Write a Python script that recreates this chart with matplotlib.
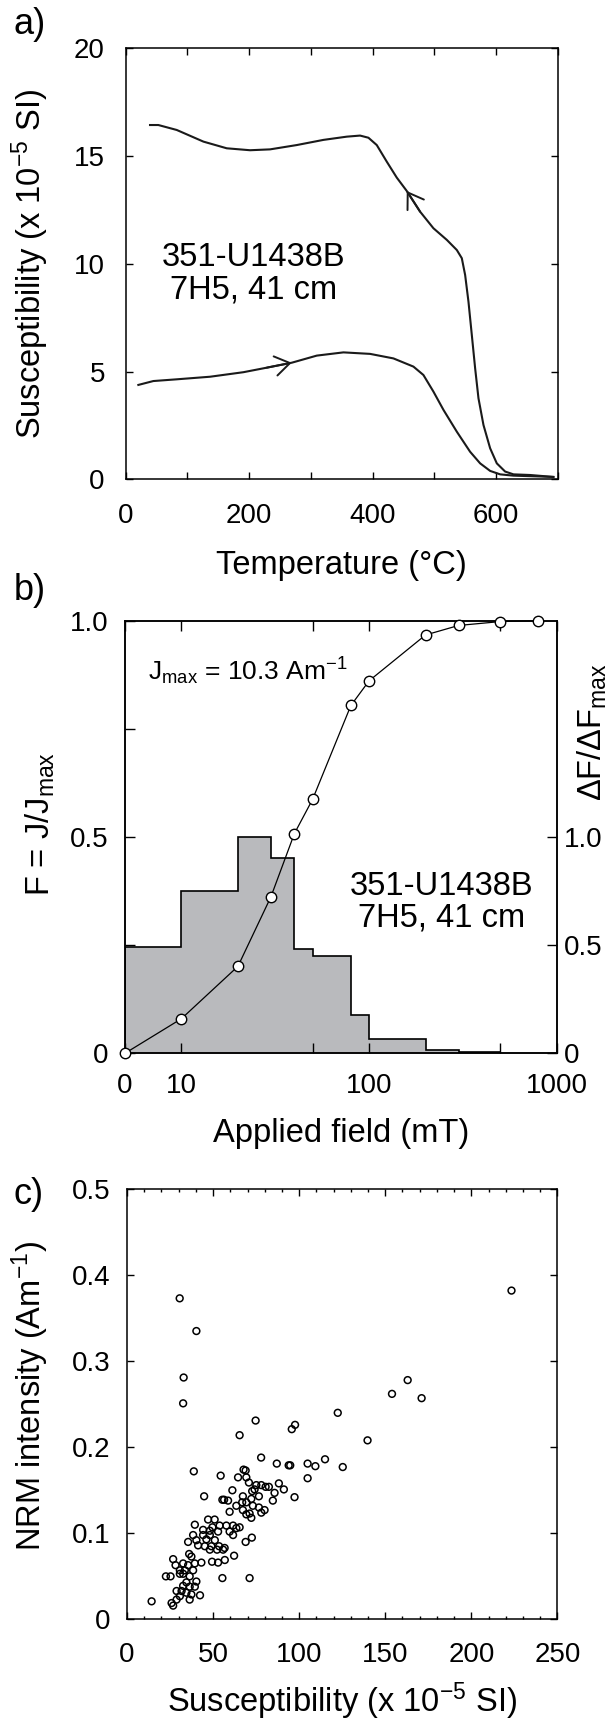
import numpy as np
import matplotlib
matplotlib.use('Agg')
import matplotlib.pyplot as plt
from matplotlib.ticker import MultipleLocator

plt.rcParams['font.family'] = ['Liberation Sans', 'DejaVu Sans']
plt.rcParams['mathtext.fontset'] = 'custom'
plt.rcParams['mathtext.rm'] = 'Liberation Sans'
plt.rcParams['mathtext.it'] = 'Liberation Sans:italic'
plt.rcParams['mathtext.default'] = 'regular'

# a) heating / cooling susceptibility curves
heat_temp = [20.5, 44.8, 82.7, 136.7, 190.7, 228.5, 269, 309.6, 352.8, 396, 433.8,
             466.2, 482.4, 498.6, 514.9, 536.5, 558, 574.3, 590.5, 606.7, 628.3, 693]
heat_susc = [4.38, 4.56, 4.64, 4.76, 4.97, 5.18, 5.41, 5.74, 5.89, 5.82, 5.61,
             5.23, 4.84, 4.07, 3.22, 2.21, 1.28, 0.74, 0.39, 0.23, 0.17, 0.11]
cool_temp = [39.4, 52.9, 82.7, 125.9, 163.7, 201.5, 233.9, 277.1, 320.4, 358.2, 379.8,
             393.3, 406.8, 423, 439.2, 455.4, 477, 498.6, 520.3, 536.5, 544.6, 550,
             555.4, 560.8, 566.2, 571.6, 579.7, 590.5, 601.3, 614.8, 628.3, 655.3, 693]
cool_susc = [16.44, 16.44, 16.21, 15.67, 15.36, 15.27, 15.31, 15.51, 15.75, 15.90, 15.95,
             15.85, 15.51, 14.74, 14.0, 13.38, 12.42, 11.65, 11.11, 10.64, 10.26, 9.48,
             8.24, 6.70, 5.15, 3.76, 2.52, 1.44, 0.74, 0.36, 0.23, 0.20, 0.11]

# b) IRM acquisition
field = [0, 10, 20, 30, 40, 50, 80, 100, 200, 300, 500, 800]
frac_j = [0, 0.080, 0.201, 0.362, 0.508, 0.587, 0.804, 0.861, 0.967, 0.989, 0.998, 1.0]
hist_edges = [0, 10, 20, 30, 40, 50, 80, 100, 200, 300, 500]
hist_vals = [0.493, 0.752, 1.0, 0.904, 0.484, 0.450, 0.176, 0.065, 0.015, 0.005]

# c) NRM vs susceptibility
susc = [30.6, 40.3, 32.9, 32.6, 223.3, 153.9, 163.0, 171.1,
        122.4, 74.7, 95.7, 97.6, 139.7, 77.9, 87.0, 93.9, 94.8, 104.9, 109.4, 115.0, 125.3, 104.9,
        67.7, 68.9, 69.3, 70.8, 75.1, 78.0, 80.5, 82.4, 88.2, 91.1, 85.7, 84.7, 97.3, 74.1,
        72.7, 67.3, 76.6, 72.2, 66.9, 69.3, 73.1, 76.6, 79.9, 78.0, 67.3, 69.3, 72.2, 71.2,
        65.4, 68.9, 72.5, 71.2,
        65.4, 38.8, 54.4, 64.5, 44.8, 61.2, 55.4, 56.4, 58.7, 63.5,
        59.6, 47.1, 50.9, 39.4, 53.8, 57.7, 61.6, 63.5, 49.6, 44.2,
        48.1, 52.9, 59.6, 38.4, 44.2, 48.1, 61.6, 35.5, 40.3, 46.1,
        51.0, 41.3, 45.2, 49.0, 53.5, 56.7, 48.1, 52.3, 55.8, 62.2,
        26.8, 36.1, 37.4, 39.4, 43.2, 32.6, 35.5, 28.2, 30.7, 33.6,
        38.4, 32.6, 30.7, 49.4, 52.9, 56.8, 22.6, 25.3, 55.4, 40.3,
        39.4, 34.5, 32.6, 36.4, 28.8, 31.7, 34.5, 37.4, 30.7, 25.9,
        28.8, 36.4, 26.8, 42.4, 14.3, 36.4]
nrm = [0.373, 0.335, 0.281, 0.251, 0.382, 0.262, 0.278, 0.257,
       0.240, 0.231, 0.221, 0.226, 0.208, 0.188, 0.181, 0.179, 0.179, 0.181, 0.178, 0.186, 0.177, 0.164,
       0.174, 0.173, 0.165, 0.159, 0.156, 0.156, 0.154, 0.154, 0.158, 0.151, 0.147, 0.138, 0.142, 0.151,
       0.149, 0.143, 0.143, 0.140, 0.136, 0.136, 0.132, 0.130, 0.127, 0.124, 0.127, 0.122, 0.118, 0.123,
       0.107, 0.090, 0.095, 0.048,
       0.214, 0.172, 0.167, 0.165, 0.143, 0.150, 0.139, 0.139, 0.138, 0.132,
       0.125, 0.116, 0.116, 0.110, 0.109, 0.109, 0.109, 0.106, 0.107, 0.104,
       0.103, 0.102, 0.102, 0.098, 0.098, 0.098, 0.098, 0.090, 0.092, 0.093,
       0.092, 0.086, 0.085, 0.085, 0.085, 0.083, 0.081, 0.081, 0.081, 0.074,
       0.070, 0.076, 0.073, 0.065, 0.066, 0.065, 0.063, 0.063, 0.057, 0.057,
       0.057, 0.053, 0.053, 0.067, 0.066, 0.069, 0.050, 0.050, 0.048, 0.044,
       0.038, 0.043, 0.039, 0.038, 0.033, 0.033, 0.031, 0.029, 0.027, 0.019,
       0.023, 0.023, 0.016, 0.028, 0.021, 0.050]

sample_lines = ['351-U1438B', '7H5, 41 cm']
LABEL_FS = 23.5
TICK_FS = 20


def style_axes(ax, pad_x, pad_y):
    ax.tick_params(which='both', direction='in', top=True, right=True,
                   labelsize=TICK_FS, width=1.0, color='k')
    ax.tick_params(which='major', length=5)
    ax.tick_params(which='minor', length=2.5)
    ax.tick_params(axis='x', pad=pad_x)
    ax.tick_params(axis='y', pad=pad_y)
    for s in ax.spines.values():
        s.set_linewidth(1.1)


fig = plt.figure(figsize=(6.12, 17.25), dpi=100)

# ---- a) ----
ax_a = fig.add_axes([0.2054, 0.72214, 0.7059, 0.24986])
ax_a.plot(heat_temp, heat_susc, color='#1a1a1a', lw=1.5, solid_joinstyle='round')
ax_a.plot(cool_temp, cool_susc, color='#1a1a1a', lw=1.5, solid_joinstyle='round')
arrow_style = dict(arrowstyle='->,head_length=0.53,head_width=0.35', lw=1.4,
                   color='#1a1a1a', shrinkA=0, shrinkB=0, mutation_scale=20)
ax_a.annotate('', xy=(heat_temp[6], heat_susc[6]), xytext=(heat_temp[5], heat_susc[5]),
              arrowprops=arrow_style)
ax_a.annotate('', xy=(cool_temp[15], cool_susc[15]), xytext=(cool_temp[16], cool_susc[16]),
              arrowprops=arrow_style)
ax_a.set_xlim(0, 700)
ax_a.set_ylim(0, 20)
ax_a.set_xticks(range(0, 701, 100))
ax_a.set_xticklabels(['0', '', '200', '', '400', '', '600', ''])
ax_a.set_yticks([0, 5, 10, 15, 20])
ax_a.set_yticklabels(['0', '5', '10', '15', '20'])
style_axes(ax_a, 17, 15)
ax_a.set_xlabel('Temperature (°C)', fontsize=LABEL_FS, va='top')
ax_a.xaxis.set_label_coords(0.5, -0.165)
ax_a.set_ylabel('Susceptibility (x 10$^{-5}$ SI)', fontsize=LABEL_FS)
ax_a.yaxis.set_label_coords(-0.172, 0.5)
ax_a.text(0.2954, 0.4949, sample_lines[0], transform=ax_a.transAxes, ha='center',
          va='baseline', fontsize=LABEL_FS)
ax_a.text(0.2954, 0.42, sample_lines[1], transform=ax_a.transAxes, ha='center',
          va='baseline', fontsize=LABEL_FS)

# ---- b) ----
ax_b = fig.add_axes([0.2042, 0.38939, 0.7054, 0.25078])
ax_h = ax_b.twinx()


def fwd(x):
    # zero field sits at the 5 mT position of the log axis
    return np.log10(np.maximum(x, 5.0))


def inv(y):
    return 10.0 ** y


ax_b.set_xscale('function', functions=(fwd, inv))
ax_h.stairs(hist_vals, hist_edges, fill=True, facecolor='#b9babd', edgecolor='none')
ax_h.stairs(hist_vals, hist_edges, color='k', lw=1.2)
ax_b.plot(field, frac_j, color='k', lw=0.9, marker='o', ms=7.5, mfc='white',
          mec='k', mew=1.0, clip_on=False, zorder=5)
ax_b.set_zorder(ax_h.get_zorder() + 1)
ax_b.patch.set_visible(False)

ax_b.set_xlim(0, 1000)
ax_b.set_ylim(0, 1.0)
ax_h.set_ylim(0, 2.0)
ax_b.set_xticks([0, 10, 50, 100, 500, 1000])
ax_b.set_xticklabels(['0', '10', '', '100', '', '1000'])
ax_b.xaxis.set_minor_locator(plt.NullLocator())
ax_b.set_yticks([0, 0.25, 0.5, 0.75, 1.0])
ax_b.set_yticklabels(['0', '', '0.5', '', '1.0'])
ax_h.set_yticks([0, 0.5, 1.0])
ax_h.set_yticklabels(['0', '0.5', '1.0'])
style_axes(ax_b, 14, 12)
ax_b.tick_params(which='major', length=7)
ax_b.tick_params(right=False)
ax_h.tick_params(direction='in', length=7, width=1.0, labelsize=TICK_FS, pad=5)
for s in ax_h.spines.values():
    s.set_linewidth(1.1)

ax_b.set_xlabel('Applied field (mT)', fontsize=LABEL_FS, va='top')
ax_b.xaxis.set_label_coords(0.5, -0.149)
ax_b.set_ylabel('F = J/J$_{max}$', fontsize=LABEL_FS)
ax_b.yaxis.set_label_coords(-0.158, 0.529)
ax_h.set_ylabel('ΔF/ΔF$_{max}$', fontsize=LABEL_FS)
ax_h.yaxis.set_label_coords(1.044, 0.743)
ax_b.text(0.054, 0.863, 'J$_{max}$ = 10.3 Am$^{-1}$', transform=ax_b.transAxes,
          ha='left', va='baseline', fontsize=19)
ax_b.text(0.7336, 0.366, sample_lines[0], transform=ax_b.transAxes, ha='center',
          va='baseline', fontsize=LABEL_FS)
ax_b.text(0.7336, 0.2927, sample_lines[1], transform=ax_b.transAxes, ha='center',
          va='baseline', fontsize=LABEL_FS)

# ---- c) ----
ax_c = fig.add_axes([0.2075, 0.06122, 0.7034, 0.2495])
ax_c.scatter(susc, nrm, s=24, facecolors='none', edgecolors='k', linewidths=1.1)
ax_c.set_xlim(0, 250)
ax_c.set_ylim(0, 0.5)
ax_c.set_xticks([0, 50, 100, 150, 200, 250])
ax_c.set_xticklabels(['0', '50', '100', '150', '200', '250'])
ax_c.xaxis.set_minor_locator(MultipleLocator(10))
ax_c.set_yticks([0, 0.1, 0.2, 0.3, 0.4, 0.5])
ax_c.set_yticklabels(['0', '0.1', '0.2', '0.3', '0.4', '0.5'])
style_axes(ax_c, 16, 12)
ax_c.set_xlabel('Susceptibility (x 10$^{-5}$ SI)', fontsize=LABEL_FS, va='top')
ax_c.xaxis.set_label_coords(0.5, -0.142)
ax_c.set_ylabel('NRM intensity (Am$^{-1}$)', fontsize=LABEL_FS)
ax_c.yaxis.set_label_coords(-0.176, 0.518)

# panel letters
for letter, ypix in [('a)', 25), ('b)', 590), ('c)', 1194)]:
    fig.text(14 / 612, 1 - ypix / 1725, letter, fontsize=26, ha='left', va='center')

fig.savefig('out.png', dpi=100)
